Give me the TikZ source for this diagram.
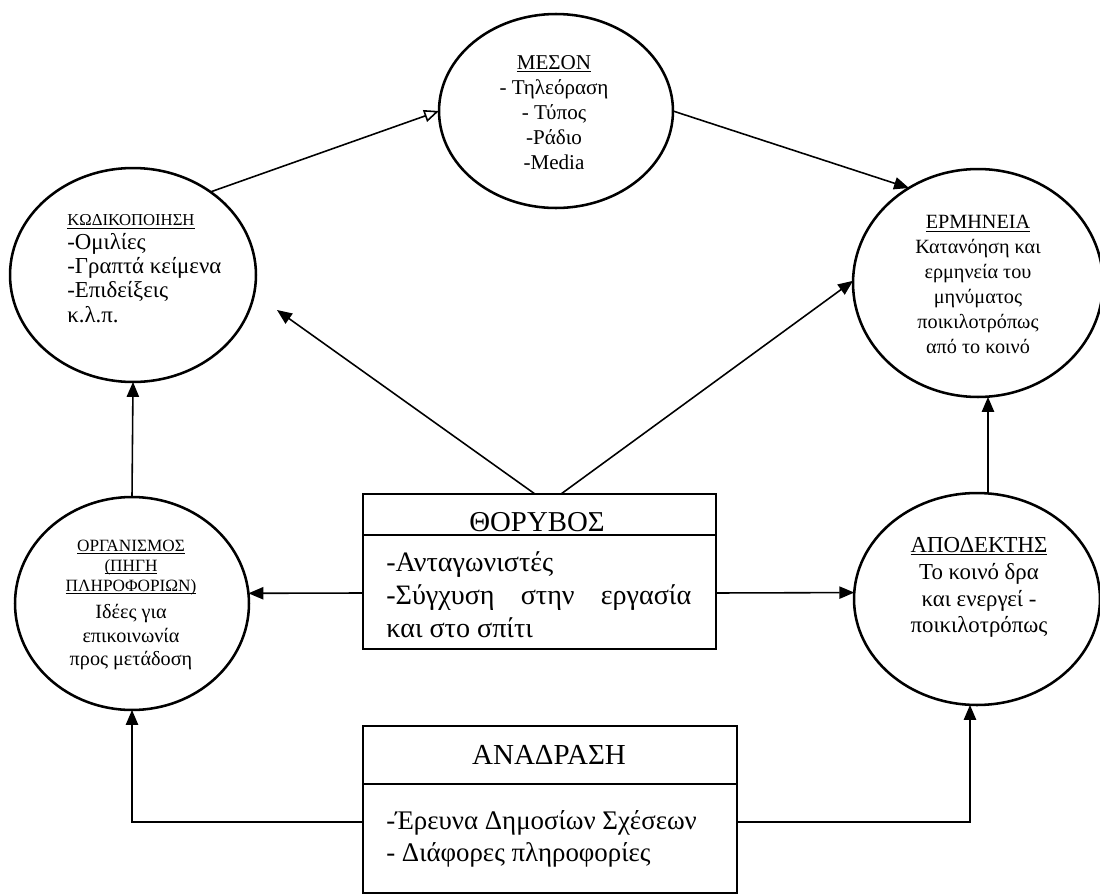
\documentclass[tikz,border=0pt]{standalone}
\usepackage{fontspec}
\setmainfont{Liberation Serif}
\usetikzlibrary{shapes.geometric,arrows.meta,calc}
\newcommand{\ulx}[1]{\underline{\raisebox{0pt}[\height][0pt]{#1}}}
\begin{document}
\begin{tikzpicture}[x=0.02cm, y=-0.02cm,
  ell/.style={draw, ellipse, line width=1.45pt, inner sep=0pt, outer sep=0pt},
  box/.style={draw, rectangle, line width=1.45pt, inner sep=0pt, outer sep=0pt},
  arr/.style={-{Triangle[length=8.5pt,width=7pt]}, line width=0.9pt},
  openarr/.style={-{Triangle[open,length=8.5pt,width=7pt,fill=white]}, line width=0.9pt},
  txt/.style={inner sep=0pt, align=center},
  sep/.style={line width=1.2pt}]
\fill[white] (0,0) rectangle (1100,896);
\useasboundingbox (0,0) rectangle (1100,896);

% ellipses
\node[ell, minimum width=4.68cm, minimum height=3.88cm] (meson) at (556,111) {};
\node[ell, minimum width=4.92cm, minimum height=4.28cm] (kod) at (133,275) {};
\node[ell, minimum width=5.0cm, minimum height=4.56cm] (erm) at (978,283) {};
\node[ell, minimum width=4.68cm, minimum height=4.26cm] (org) at (132,603.5) {};
\node[ell, minimum width=4.92cm, minimum height=4.24cm] (apod) at (977,599) {};

% boxes
\node[box, minimum width=7.06cm, minimum height=3.1cm] (thor) at (539.5,571.5) {};
\node[box, minimum width=7.48cm, minimum height=3.34cm] (anad) at (550,809.5) {};
\draw[sep] ([yshift=-0.82cm]thor.north west) -- ([yshift=-0.82cm]thor.north east);
\draw[sep] ([yshift=-1.16cm]anad.north west) -- ([yshift=-1.16cm]anad.north east);

% texts
\node[txt, font=\fontsize{12}{14.3}\selectfont] (mesontxt) at (554,112.5)
  {\ulx{ΜΕΣΟΝ}\\- Τηλεόραση\\- Τύπος\\-Ράδιο\\-Media};
\node[txt, align=left, anchor=west, font=\fontsize{13}{13.7}\selectfont] (kodtxt) at (67,268.5)
  {{\fontsize{9.5}{13.7}\selectfont\ulx{ΚΩΔΙΚΟΠΟΙΗΣΗ}}\\-Ομιλίες\\-Γραπτά κείμενα\\-Επιδείξεις\\κ.λ.π.};
\node[txt, font=\fontsize{11.5}{14.2}\selectfont] (ermtxt) at (978,284.5)
  {\ulx{ΕΡΜΗΝΕΙΑ}\\Κατανόηση και\\ερμηνεία του\\μηνύματος\\ποικιλοτρόπως\\από το κοινό};
\node[txt, font=\fontsize{11.5}{13.3}\selectfont] (orgtxt) at (131,605)
  {{\fontsize{9.8}{11}\selectfont\ulx{ΟΡΓΑΝΙΣΜΟΣ}}\\[-2pt]
   {\fontsize{9.8}{11}\selectfont\ulx{(ΠΗΓΗ}}\\[-2pt]
   {\fontsize{9.8}{11}\selectfont\ulx{ΠΛΗΡΟΦΟΡΙΩΝ)}}\\[2.6pt]
   Ιδέες για\\επικοινωνία\\προς μετάδοση};
\node[txt, font=\fontsize{13}{15.3}\selectfont] (apodtxt) at (979,587.5)
  {\ulx{ΑΠΟΔΕΚΤΗΣ}\\Το κοινό δρα\\ και ενεργεί -\\ποικιλοτρόπως};

\node[txt, font=\fontsize{16.4}{18}\selectfont] (thortitle) at (537,522) {ΘΟΡΥΒΟΣ};
\node[txt, align=left, anchor=west, font=\fontsize{16}{18.7}\selectfont] (thortxt) at (386,595)
  {-Ανταγωνιστές\\\makebox[6.1cm][s]{-Σύγχυση στην εργασία}\\και στο σπίτι};
\node[txt, font=\fontsize{16.5}{18}\selectfont] (anadtitle) at (549,755) {ΑΝΑΔΡΑΣΗ};
\node[txt, align=left, anchor=west, font=\fontsize{15.3}{18.1}\selectfont] (anadtxt) at (386,839)
  {-Έρευνα Δημοσίων Σχέσεων\\- Διάφορες πληροφορίες};

% connectors
\coordinate (kodtip) at (277,310);
\draw[openarr] (kod.47) -- (meson.180);
\draw[arr] (meson.0) -- (erm.126);
\draw[arr] ([xshift=-0.09cm]thor.north) -- (kodtip);
\draw[arr] ([xshift=0.43cm]thor.north) -- (erm.179);
\draw[arr] (org.north) -- (kod.south);
\draw[arr] ([xshift=0.22cm]apod.north) -- ([xshift=0.2cm]erm.south);
\draw[arr] ([yshift=-0.43cm]thor.west) -- (org.5);
\draw[arr] ([yshift=-0.43cm]thor.east) -- (apod.177);
\draw[arr] ([yshift=-0.25cm]anad.west) -| (org.south);
\draw[arr] ([yshift=-0.25cm]anad.east) -| ([xshift=-0.14cm]apod.south);
\end{tikzpicture}
\end{document}
